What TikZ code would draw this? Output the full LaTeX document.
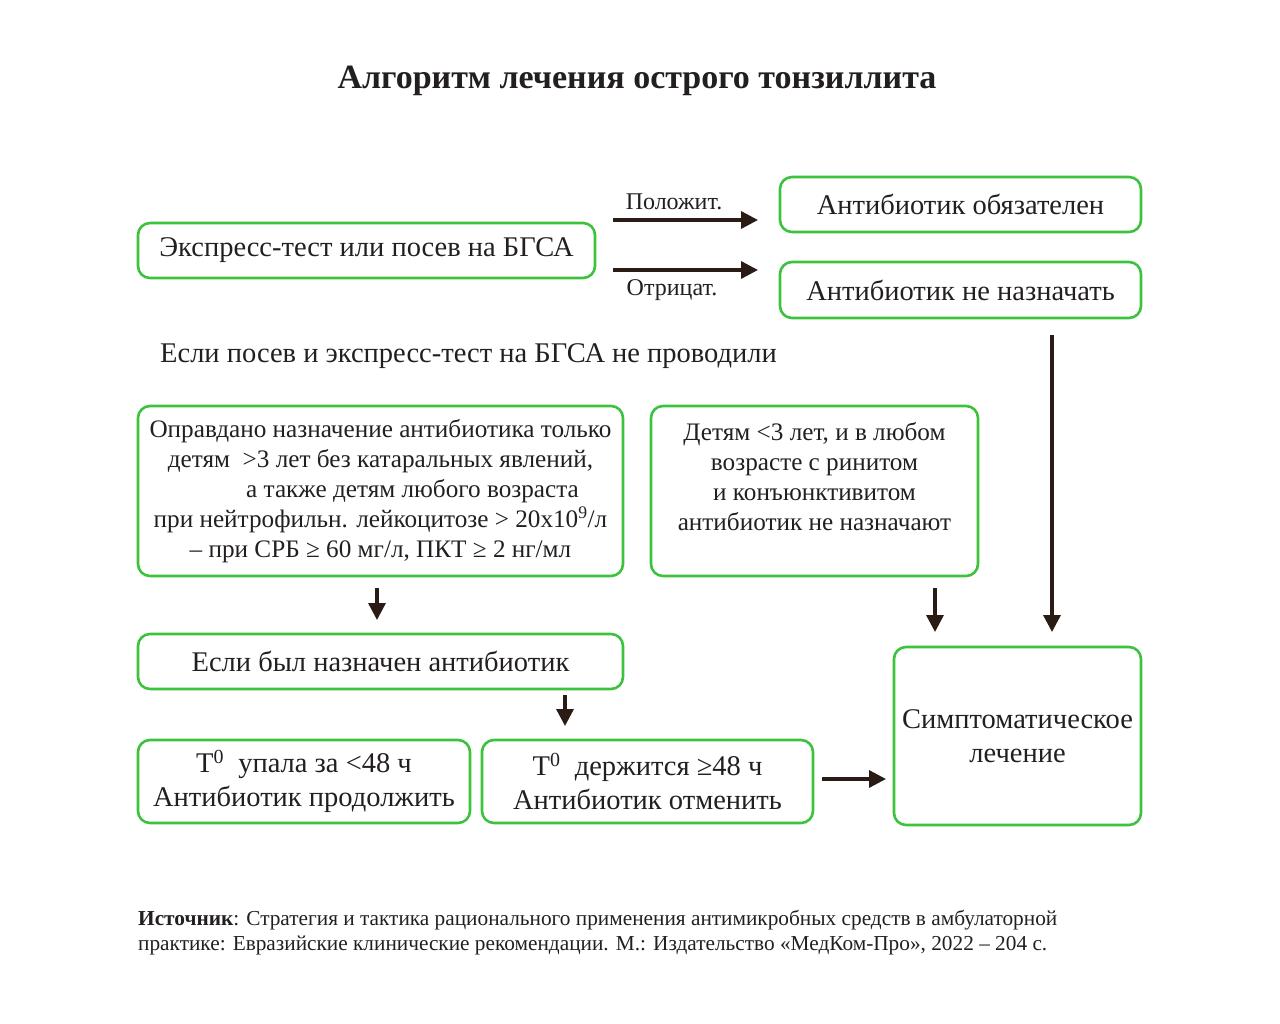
\documentclass[tikz,border=0pt]{standalone}
\usepackage{fontspec}
\setmainfont{Liberation Serif}
\usetikzlibrary{arrows.meta}
\definecolor{gr}{HTML}{3CC23C}
\definecolor{ink}{HTML}{231F20}
\definecolor{arrc}{HTML}{2A1C14}
\begin{document}
\begin{tikzpicture}[x=1pt,y=-1pt,
  box/.style={draw=gr, line width=2.6pt, rounded corners=12pt, text=ink, align=center, inner sep=0pt},
  conn/.style={draw=arrc, line width=3.3pt, -{Triangle[length=17pt,width=17pt]}},
  txt/.style={text=ink, inner sep=0pt},
  fbig/.style={font=\fontsize{28.5}{34}\selectfont},
  fmid/.style={font=\fontsize{25.2}{30}\selectfont},
  fsmall/.style={font=\fontsize{24}{25}\selectfont}]
\useasboundingbox (0,0) rectangle (1280,1023);
% title
\node[txt, font=\fontsize{34}{40}\selectfont\bfseries] (title) at (637,81) {Алгоритм лечения острого тонзиллита};
% top row
\node[box, fbig, minimum width=457pt, minimum height=55pt] (a) at (366.5,250.5) {Экспресс-тест или посев на БГСА};
\node[box, fbig, minimum width=361pt, minimum height=55pt] (b) at (960.5,204.5) {Антибиотик обязателен};
\node[box, fbig, minimum width=361pt, minimum height=56pt] (c) at (960.5,290) {Антибиотик не назначать};
\coordinate (p1) at (613,220);
\coordinate (p2) at (758,220);
\coordinate (n1) at (613,270);
\coordinate (n2) at (758,270);
\draw[conn] (p1) -- (p2);
\draw[conn] (n1) -- (n2);
\node[txt, fsmall] (lp) at (674,202) {Положит.};
\node[txt, fsmall] (ln) at (672,290) {Отрицат.};
% note
\node[txt, fbig, anchor=west] (note) at (160,356) {Если посев и экспресс-тест на БГСА не проводили};
% middle boxes
\node[box, fmid, minimum width=485pt, minimum height=170pt] (d) at (380.5,491) {Оправдано назначение антибиотика только\\
детям \ >3 лет без катаральных явлений,\\
\hspace*{64pt}а также детям любого возраста\\
при нейтрофильн. лейкоцитозе > 20х10\textsuperscript{9}/л\\
– при СРБ ≥ 60 мг/л, ПКТ ≥ 2 нг/мл};
\node[box, fmid, minimum width=327pt, minimum height=170pt] (e) at (814.5,491) {Детям <3 лет, и в любом\\
возрасте с ринитом\\
и конъюнктивитом\\
антибиотик не назначают\\ ~};
\node[box, fbig, minimum width=485pt, minimum height=55pt] (f) at (380.5,661.5) {Если был назначен антибиотик};
\node[box, fbig, minimum width=332pt, minimum height=83pt] (g) at (304,781.5) {Т\textsuperscript{0} \ упала за <48 ч\\Антибиотик продолжить};
\node[box, fbig, minimum width=331pt, minimum height=83pt] (h) at (647.5,781.5) {Т\textsuperscript{0} \ держится ≥48 ч\\Антибиотик отменить};
\node[box, fbig, minimum width=247pt, minimum height=178pt] (i) at (1017.5,736) {Симптоматическое\\лечение};
% arrows
\coordinate (d1) at (377,588);
\coordinate (d2) at (377,620);
\coordinate (e1) at (935,588);
\coordinate (e2) at (935,632);
\coordinate (c1) at (1052,335);
\coordinate (c2) at (1052,632);
\coordinate (f1) at (565,695);
\coordinate (f2) at (565,726);
\coordinate (h1) at (822,779);
\coordinate (h2) at (886,779);
\draw[conn] (d1) -- (d2);
\draw[conn] (e1) -- (e2);
\draw[conn] (c1) -- (c2);
\draw[conn] (f1) -- (f2);
\draw[conn] (h1) -- (h2);
% source
\node[txt, font=\fontsize{21.3}{25}\selectfont, anchor=north west, align=left] (src) at (138,910) {\textbf{Источник}: Стратегия и тактика рационального применения антимикробных средств в амбулаторной\\
практике: Евразийские клинические рекомендации. М.: Издательство «МедКом-Про», 2022 – 204 с.};
\end{tikzpicture}
\end{document}
